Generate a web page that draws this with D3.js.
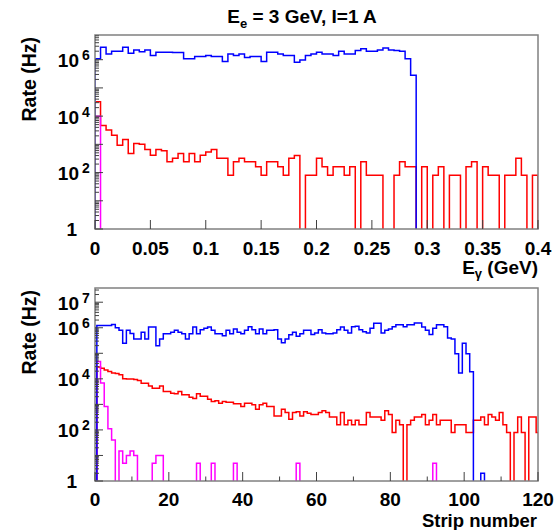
<!DOCTYPE html>
<html><head><meta charset="utf-8">
<script src="https://cdn.jsdelivr.net/npm/d3@7"></script>
<style>
body{margin:0;background:#fff}
text{font-family:"Liberation Sans",Arial,Helvetica,sans-serif;font-weight:bold;fill:#000}
</style>
</head><body>
<svg id="chart" width="558" height="530"></svg>
<script>
// ---------- DATA ----------
const titleText = ["E", "e", " = 3 GeV, I=1 A"];
const energyBinWidth = 0.005;              // GeV, 80 bins from 0 to 0.4
const energyTicks = [0, 0.05, 0.1, 0.15, 0.2, 0.25, 0.3, 0.35, 0.4];
const energyTickLabels = ["0", "0.05", "0.1", "0.15", "0.2", "0.25", "0.3", "0.35", "0.4"];
const stripTicks = [0, 20, 40, 60, 80, 100, 120];
const stripMinorTicks = [10, 30, 50, 70, 90, 110];
const topYLabelExps = [0, 2, 4, 6];
const bottomYLabelExps = [0, 2, 4, 6, 7];

// Top panel: rate vs photon energy (Hz), 80 bins
const blueEnergy = [
 1.07e6,2.75e6,1.6e6,2.0e6,2.0e6,2.75e6,1.7e6,2.2e6,1.9e6,2.2e6,
 1.4e6,1.85e6,1.85e6,1.85e6,1.8e6,1.8e6,1.07e6,1.07e6,1.3e6,1.3e6,
 1.4e6,1.3e6,1.3e6,8.7e5,1.6e6,1.4e6,1.6e6,1.2e6,1.3e6,1.3e6,
 8.7e5,1.85e6,1.85e6,1.6e6,1.4e6,1.4e6,8.1e5,9.8e5,1.4e6,1.6e6,
 1.85e6,1.6e6,1.6e6,1.4e6,2.0e6,1.6e6,1.6e6,2.1e6,2.45e6,2.0e6,
 2.0e6,2.2e6,2.6e6,2.2e6,2.1e6,2.0e6,1.07e6,2.8e5,0,0,
 0,0,0,0,0,0,0,0,0,0,
 0,0,0,0,0,0,0,0,0,0];
const redEnergy = [
 3.2e4,4.7e3,3.2e3,2.1e3,930,1500,470,1070,1000,660,
 410,660,590,240,320,470,240,470,240,410,
 540,660,320,320,80,240,320,240,240,160,
 80,240,240,160,80,320,400,0,80,80,
 320,160,80,160,160,80,160,0,240,80,
 80,80,0,0,80,240,160,160,0,160,
 0,80,160,0,80,80,0,160,240,0,
 160,80,80,0,80,80,320,80,0,80];
const magentaEnergy = [
 1.0e4,0,0,0,0,0,0,0,0,0,
 0,0,0,0,0,0,0,0,0,0,
 0,0,0,0,0,0,0,0,0,0,
 0,0,0,0,0,0,0,0,0,0,
 0,0,0,0,0,0,0,0,0,0,
 0,0,0,0,0,0,0,0,0,0,
 0,0,0,0,0,0,0,0,0,0,
 0,0,0,0,0,0,0,0,0,0];

// Bottom panel: rate vs strip number (Hz), strips 1..120
const blueStrip = [
 1.23e6,1.23e6,1.23e6,1.23e6,1.35e6,1.0e6,7.9e5,2.5e5,7.9e5,6.0e5,
 3.6e5,3.6e5,6.6e5,3.6e5,1.07e6,1.07e6,1.96e5,3.6e5,5.8e5,5.8e5,
 6.6e5,7.9e5,6.6e5,5.8e5,3.6e5,5.8e5,1.07e6,5.8e5,8.4e5,9.6e5,
 1.07e6,7.9e5,5.8e5,5.8e5,4.9e5,7.9e5,5.8e5,8.9e5,6.6e5,5.8e5,
 7.9e5,1.1e6,8.4e5,5.8e5,8.9e5,5.8e5,7.9e5,7.9e5,8.4e5,3.6e5,
 2.6e5,3.6e5,5.3e5,6.6e5,4.7e5,5.8e5,7.9e5,7.9e5,5.4e5,6.2e5,
 8.3e5,6.2e5,5.8e5,5.8e5,6.2e5,8.3e5,1.07e6,7.9e5,6.2e5,1.1e6,
 1.15e6,8.3e5,7.0e5,6.2e5,9.6e5,1.5e6,1.5e6,6.2e5,7.9e5,8.9e5,
 1.1e6,1.3e6,1.3e6,1.1e6,1.3e6,1.3e6,1.55e6,1.55e6,1.07e6,7.9e5,
 5.4e5,9.6e5,1.3e6,1.3e6,1.1e6,4.0e5,3.6e5,9.5e4,1.7e4,2.5e5,
 9.5e4,1.9e4,0,0,2,0,0,0,0,0,
 0,0,0,0,0,0,0,0,0,0];
const redStrip = [
 2.9e4,2.6e4,2.2e4,1.95e4,1.7e4,1.6e4,1.44e4,1.0e4,9.8e3,9.8e3,
 9.5e3,8.6e3,6.7e3,6.7e3,5.3e3,4.3e3,4.3e3,5.3e3,3.2e3,3.2e3,
 2.7e3,2.6e3,3.2e3,2.4e3,2.4e3,1.9e3,1.7e3,2.6e3,2.1e3,2.1e3,
 1.6e3,1.3e3,1.4e3,1.1e3,1.3e3,1.2e3,1.2e3,1.05e3,1.05e3,830,
 1.1e3,1.1e3,960,650,960,1.1e3,830,830,350,350,
 650,480,260,480,520,350,520,450,400,400,
 480,560,480,320,320,160,480,160,240,160,
 240,160,160,480,320,320,320,240,560,400,
 80,240,160,0,160,240,320,320,400,160,
 240,400,160,240,240,240,80,160,160,160,
 80,80,240,240,320,160,400,320,240,480,
 160,80,0,80,320,80,0,320,320,80];
const magentaStrip = [
 4.8e4,6.8e3,830,110,40,0,15,5,10,15,
 10,0,0,0,0,5,10,10,0,0,
 0,0,0,0,0,0,0,5,0,0,
 0,5,0,0,0,0,0,5,0,0,
 0,0,0,0,0,0,0,0,0,0,
 0,0,0,0,5,0,0,0,0,0,
 0,0,0,0,0,0,0,0,0,0,
 0,0,0,0,0,0,0,0,0,0,
 0,0,0,0,0,0,0,0,0,0,
 0,5,0,0,0,0,0,0,0,0,
 0,0,0,0,0,0,0,0,0,0,
 0,0,0,0,0,0,0,0,0,0];

// ---------- DRAWING ----------
const svg = d3.select("#chart");
const colors = {blue: "#0000ff", red: "#ff0000", magenta: "#ff00ff"};
const frameColor = "#808080", tickColor = "#404040";

function histPath(values, edge, x, y, yZero) {
  const pts = [];
  values.forEach((v, i) => {
    const [a, b] = edge(i);
    const yy = v > 0 ? y(v) : yZero;
    if (i === 0) pts.push([x(a), yZero]);
    pts.push([x(a), yy]);
    pts.push([x(b), yy]);
  });
  const last = edge(values.length - 1)[1];
  pts.push([x(last), yZero]);
  return d3.line()(pts);
}

function panel(opts) {
  const {left, width, height, xDomain, yMax, series, edge, id} = opts;
  const g = svg.append("g").attr("transform", `translate(${left},${opts.topY})`);
  const x = d3.scaleLinear().domain(xDomain).range([0, width]);
  const y = d3.scaleLog().domain([1, yMax]).range([height, 0]);

  g.append("clipPath").attr("id", id).append("rect")
    .attr("x", 0).attr("y", 0).attr("width", width).attr("height", height);

  const hg = g.append("g").attr("clip-path", `url(#${id})`);
  series.forEach(s => {
    hg.append("path").attr("d", histPath(s.values, edge, x, y, height + 4))
      .attr("fill", "none").attr("stroke", s.color).attr("stroke-width", 1.5)
      .attr("stroke-linejoin", "miter");
  });

  // frame
  g.append("rect").attr("x", 0).attr("y", 0).attr("width", width).attr("height", height)
    .attr("fill", "none").attr("stroke", frameColor).attr("stroke-width", 1.5);

  // y ticks (log)
  const maxExp = Math.floor(Math.log10(yMax));
  const yt = [];
  for (let e = 0; e <= maxExp; e++) {
    for (let m = 1; m <= 9; m++) {
      const v = m * Math.pow(10, e);
      if (v <= yMax) yt.push({v, major: m === 1});
    }
  }
  g.append("g").selectAll("line").data(yt).join("line")
    .attr("x1", 0).attr("x2", d => d.major ? 8 : 4)
    .attr("y1", d => y(d.v)).attr("y2", d => y(d.v))
    .attr("stroke", tickColor).attr("stroke-width", 1);

  // y tick labels
  const labels = g.append("g");
  opts.yLabelExps.forEach(e => {
    const yy = y(Math.pow(10, e));
    if (e === 0) {
      labels.append("text").attr("x", -18).attr("y", yy + 7).attr("text-anchor", "end")
        .attr("font-size", 19).text("1");
    } else {
      labels.append("text").attr("x", -16).attr("y", yy + 7.5).attr("text-anchor", "end")
        .attr("font-size", 19).text("10");
      labels.append("text").attr("x", -13).attr("y", yy + 0.5).attr("text-anchor", "start")
        .attr("font-size", 14).text(String(e));
    }
  });

  // x ticks
  g.append("g").selectAll("line").data(opts.xMajor).join("line")
    .attr("x1", d => x(d)).attr("x2", d => x(d))
    .attr("y1", height).attr("y2", height - 9)
    .attr("stroke", tickColor).attr("stroke-width", 1);
  g.append("g").selectAll("line").data(opts.xMinor || []).join("line")
    .attr("x1", d => x(d)).attr("x2", d => x(d))
    .attr("y1", height).attr("y2", height - 4.5)
    .attr("stroke", tickColor).attr("stroke-width", 1);
  g.append("g").selectAll("text").data(opts.xMajor).join("text")
    .attr("x", d => x(d)).attr("y", height + opts.xLabelOffset).attr("text-anchor", "middle")
    .attr("font-size", 19).text((d, i) => opts.xLabels[i]);

  // y title
  g.append("text").attr("transform", `translate(${36 - left},0) rotate(-90)`)
    .attr("x", -2).attr("y", 0).attr("text-anchor", "end").attr("font-size", 19.5)
    .text("Rate (Hz)");
  return {g, x, y};
}

// Top panel
const topPanel = panel({
  id: "clipTop", left: 95, topY: 35, width: 443, height: 194,
  xDomain: [0, 0.4], yMax: 7.5e6,
  series: [
    {values: redEnergy, color: colors.red},
    {values: magentaEnergy, color: colors.magenta},
    {values: blueEnergy, color: colors.blue}
  ],
  edge: i => [i * energyBinWidth, (i + 1) * energyBinWidth],
  yLabelExps: topYLabelExps,
  xMajor: energyTicks, xLabels: energyTickLabels, xLabelOffset: 26
});

// Bottom panel
const bottomPanel = panel({
  id: "clipBottom", left: 95, topY: 288, width: 443, height: 193,
  xDomain: [0, 120], yMax: 3.6e7,
  series: [
    {values: redStrip, color: colors.red},
    {values: magentaStrip, color: colors.magenta},
    {values: blueStrip, color: colors.blue}
  ],
  edge: i => [i + 0.5, i + 1.5],
  yLabelExps: bottomYLabelExps,
  xMajor: stripTicks, xMinor: stripMinorTicks, xLabels: stripTicks.map(String), xLabelOffset: 25
});

// Title
const t = svg.append("text").attr("x", 302).attr("y", 23).attr("text-anchor", "middle").attr("font-size", 19);
t.append("tspan").text(titleText[0]);
t.append("tspan").attr("dy", 5).attr("font-size", 13).text(titleText[1]);
t.append("tspan").attr("dy", -5).text(titleText[2]);

// X axis titles
const xt = svg.append("text").attr("x", 538).attr("y", 274).attr("text-anchor", "end").attr("font-size", 19);
xt.append("tspan").text("E");
xt.append("tspan").attr("dy", 4).attr("font-size", 13).text("γ");
xt.append("tspan").attr("dy", -4).text(" (GeV)");

svg.append("text").attr("x", 537).attr("y", 527).attr("text-anchor", "end").attr("font-size", 18.5)
  .text("Strip number");
</script>
</body></html>
